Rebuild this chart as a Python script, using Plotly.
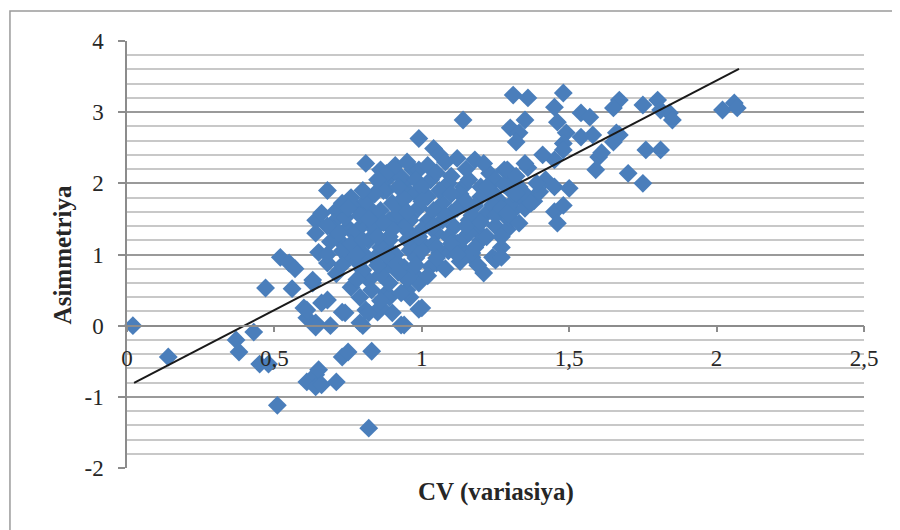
import plotly.graph_objects as go

# ---- data ----
# low / outlying points
cv_low = [0.02, 0.14, 0.37, 0.38, 0.43, 0.45, 0.48, 0.51, 0.61, 0.64,
          0.64, 0.65, 0.66, 0.71, 0.73, 0.75, 0.82, 0.83,
          0.60, 0.61, 0.64, 0.61, 0.64, 0.69, 0.74, 0.80, 0.81, 0.85,
          0.90, 0.93, 0.99, 0.66, 0.73, 0.79, 0.94, 1.00, 0.82, 0.86, 0.68,
          0.47, 0.52, 0.55, 0.57, 0.56, 0.63]
asym_low = [0.00, -0.44, -0.20, -0.37, -0.09, -0.54, -0.54, -1.12, -0.79, -0.69,
            -0.86, -0.62, -0.83, -0.79, -0.44, -0.37, -1.44, -0.36,
            0.25, 0.11, 0.04, 0.22, -0.02, 0.00, 0.18, 0.00, 0.22, 0.19,
            0.18, 0.01, 0.23, 0.32, 0.19, 0.04, 0.01, 0.25, 0.18, 0.26, 0.36,
            0.53, 0.96, 0.88, 0.80, 0.52, 0.60]

# central cluster
cv_mid = [0.81, 0.68, 0.86, 0.71, 0.78, 0.64, 0.64, 0.63, 0.65, 0.72,
          0.75, 0.79, 0.85, 0.94, 0.97, 0.92, 0.82, 0.96, 0.88, 0.76,
          0.94, 0.96, 0.88, 0.80, 0.71, 0.68, 0.75, 0.82, 0.89, 0.83,
          0.92, 0.96, 0.98, 0.88, 0.89, 0.86, 0.89, 0.99, 1.05, 1.13,
          1.17, 0.95, 0.79, 1.14, 0.99, 1.04, 1.06, 1.12, 1.18, 1.28,
          1.23, 0.99, 0.93, 0.88, 1.14, 1.09, 1.03, 1.20, 1.30, 1.33,
          1.31, 1.20, 1.24, 1.17, 1.21, 1.12, 1.06, 1.03, 0.97, 0.93,
          0.89, 0.93, 0.89, 0.97, 1.05, 1.11, 1.16, 1.22, 1.14, 1.07,
          1.02, 0.96, 0.90, 0.89, 0.96, 1.02, 1.07, 0.89, 0.96, 0.87,
          1.20, 1.26,
          0.70, 0.74, 0.77, 0.80, 0.84, 0.86, 0.91, 0.84, 0.78, 0.73,
          0.69, 0.70, 0.76, 0.81, 0.86, 0.91, 0.98, 1.01, 1.04, 1.09,
          1.00, 0.94, 0.86, 0.81, 0.76, 0.84, 0.92, 0.99, 1.04, 1.10,
          1.13, 1.18, 1.24, 1.28, 1.25, 1.19, 1.14, 1.09, 1.13, 1.08,
          1.02, 0.95, 0.88, 0.79, 0.73, 0.93, 0.98, 1.06, 1.10, 1.16,
          1.25, 1.30, 1.33, 1.35, 1.36, 1.29, 1.22, 1.16, 1.27, 1.19,
          0.83, 0.86, 0.78, 0.73, 0.68, 0.66, 0.91, 0.95, 1.02, 1.08,
          1.15, 1.21, 1.00, 0.94, 1.04, 1.12, 1.17, 1.24, 1.31, 1.28,
          1.38, 1.40, 1.25,
          0.80, 0.85, 0.90, 0.95, 1.00, 1.05, 1.10, 1.15, 1.20, 1.25,
          1.18, 1.12, 1.05, 0.98, 0.92, 0.85, 0.78, 0.72, 0.68, 0.75,
          0.80, 0.85, 0.92, 1.00, 1.08, 1.15, 1.22, 1.30, 1.35, 1.05,
          0.95, 0.87, 0.82, 0.99, 1.10, 1.27]
asym_mid = [2.28, 1.90, 2.19, 1.62, 1.65, 1.48, 1.30, 0.64, 1.03, 1.20,
            1.38, 1.06, 1.48, 2.00, 2.19, 1.72, 0.64, 0.40, 0.46, 0.54,
            0.82, 1.06, 0.82, 0.78, 0.73, 0.88, 0.96, 1.20, 1.20, 1.62,
            1.44, 1.53, 1.86, 1.90, 2.09, 2.00, 0.40, 0.60, 0.88, 1.10,
            0.96, 0.50, 0.40, 2.89, 2.63, 2.49, 2.40, 2.35, 2.33, 2.19,
            2.14, 2.19, 2.09, 2.14, 1.95, 2.00, 2.05, 1.95, 2.00, 1.81,
            1.62, 1.20, 0.96, 1.02, 0.74, 1.16, 1.02, 0.83, 0.74, 0.46,
            0.60, 0.83, 1.06, 1.16, 1.30, 1.39, 1.48, 1.58, 1.72, 1.72,
            1.81, 1.86, 1.72, 1.48, 1.48, 1.48, 1.48, 1.25, 1.30, 1.90,
            1.81, 1.77,
            1.45, 1.52, 1.30, 1.42, 1.35, 1.10, 1.00, 0.95, 0.90, 1.05,
            1.18, 1.35, 1.15, 0.98, 0.72, 0.88, 0.95, 1.12, 1.15, 1.25,
            1.35, 1.38, 1.62, 1.75, 1.80, 1.85, 1.58, 1.66, 1.62, 1.58,
            1.85, 1.68, 1.88, 1.55, 1.40, 1.33, 1.22, 1.05, 0.90, 0.80,
            0.70, 0.65, 0.98, 1.55, 1.72, 1.92, 2.05, 1.90, 2.10, 2.05,
            2.05, 1.70, 1.95, 1.65, 2.22, 1.35, 1.25, 1.30, 1.10, 0.85,
            0.50, 0.35, 0.65, 0.85, 1.00, 1.58, 2.25, 2.30, 2.25, 2.30,
            2.20, 2.28, 1.95, 1.78, 1.40, 1.65, 1.55, 1.70, 1.86, 1.98,
            1.75, 1.88, 0.92,
            1.20, 1.25, 1.35, 1.20, 1.05, 1.10, 1.15, 1.40, 1.45, 1.55,
            1.10, 1.00, 0.95, 0.85, 0.75, 0.85, 1.00, 1.30, 1.40, 1.65,
            1.90, 2.05, 1.95, 1.75, 1.55, 1.75, 1.95, 1.50, 1.85, 2.15,
            1.60, 1.45, 1.50, 1.25, 1.85, 1.65]

# upper-right points
cv_high = [1.31, 1.36, 1.48, 1.45, 1.54, 1.57, 1.67, 1.65, 1.75, 1.35,
           1.46, 1.30, 1.33, 1.32, 1.49, 1.54, 1.58, 1.66, 1.65, 1.48,
           1.48, 1.76, 1.45, 1.60, 1.59, 1.70, 1.35, 1.75, 1.29, 1.42,
           1.39, 1.45, 1.50, 1.32, 1.37, 1.45, 1.48, 1.46, 1.33, 1.29,
           1.27, 1.27, 1.80, 1.81, 1.84, 1.85, 2.02, 2.06, 2.07, 1.81,
           1.67, 1.61, 1.32, 1.41]
asym_high = [3.24, 3.20, 3.27, 3.07, 2.99, 2.93, 3.17, 3.06, 3.10, 2.89,
             2.86, 2.78, 2.71, 2.58, 2.71, 2.65, 2.68, 2.71, 2.58, 2.56,
             2.47, 2.47, 2.33, 2.37, 2.19, 2.14, 2.28, 2.00, 2.19, 2.05,
             2.00, 1.95, 1.93, 1.86, 1.72, 1.60, 1.69, 1.44, 1.44, 1.58,
             1.25, 0.96, 3.17, 3.03, 2.99, 2.89, 3.03, 3.13, 3.06, 2.47,
             2.68, 2.43, 2.10, 2.40]

# linear trend line end points
trend_x = [0.024, 2.076]
trend_y = [-0.805, 3.607]

x_tickvals = [0, 0.5, 1, 1.5, 2, 2.5]
x_ticktext = ["0", "0,5", "1", "1,5", "2", "2,5"]
y_tickvals = [-2, -1, 0, 1, 2, 3, 4]
y_ticktext = ["-2", "-1", "0", "1", "2", "3", "4"]

x_title = "CV (variasiya)"
y_title = "Asimmetriya"

cv_all = cv_low + cv_mid + cv_high
asym_all = asym_low + asym_mid + asym_high

FONT = "Liberation Serif, Times New Roman, serif"
BLUE = "#4A7EBB"

fig = go.Figure()
fig.add_trace(go.Scatter(
    x=cv_all, y=asym_all, mode="markers",
    marker=dict(symbol="diamond", size=14.5, color=BLUE, line=dict(width=0)),
    cliponaxis=False, showlegend=False, hoverinfo="skip"))
fig.add_trace(go.Scatter(
    x=trend_x, y=trend_y, mode="lines",
    line=dict(color="#1a1a1a", width=2), showlegend=False, hoverinfo="skip"))

# the page body adds an 8px offset, margins compensate for it
fig.update_layout(
    width=900, height=530,
    margin=dict(l=119, r=44, t=33, b=70),
    paper_bgcolor="white", plot_bgcolor="white",
    font=dict(family=FONT, size=23, color="#262626"),
    showlegend=False,
)

fig.update_xaxes(
    range=[0, 2.5], anchor="free", position=1/3,
    tickvals=x_tickvals, ticktext=x_ticktext,
    showgrid=False, zeroline=False,
    showline=True, linecolor="#8c8c8c", linewidth=1.5,
    ticks="outside", ticklen=6, tickcolor="#8c8c8c", tickwidth=1.5,
    ticklabelstandoff=6,
    tickfont=dict(family=FONT, size=23, color="#262626"),
)
fig.update_yaxes(
    range=[-2, 4], tickvals=y_tickvals, ticktext=y_ticktext,
    showgrid=True, gridcolor="#9a9a9a", gridwidth=1.5,
    zeroline=False,
    showline=True, linecolor="#8c8c8c", linewidth=1.5,
    ticks="outside", ticklen=7, tickcolor="#8c8c8c", tickwidth=1.5,
    ticklabelstandoff=10,
    tickfont=dict(family=FONT, size=23, color="#262626"),
    minor=dict(dtick=0.2, tick0=0, showgrid=True, gridcolor="#c8c8c8",
               gridwidth=1.5, ticks=""),
)

# axis titles
fig.add_annotation(text="<b>" + x_title + "</b>", xref="paper", yref="paper",
                   x=0.5, y=-0.057, xanchor="center", yanchor="middle",
                   showarrow=False, font=dict(family=FONT, size=25, color="#262626"))
fig.add_annotation(text="<b>" + y_title + "</b>", xref="paper", yref="paper",
                   x=-0.087, y=0.5, xanchor="center", yanchor="middle",
                   textangle=-90, showarrow=False,
                   font=dict(family=FONT, size=25, color="#262626"))

# outer chart frame (cut at the right and bottom edges)
fig.add_shape(type="rect", xref="paper", yref="paper",
              x0=-0.1588, y0=-0.25, x1=1.15, y1=1.0703,
              line=dict(color="#9a9a9a", width=1.5), layer="below")

fig.write_html("out.html")
